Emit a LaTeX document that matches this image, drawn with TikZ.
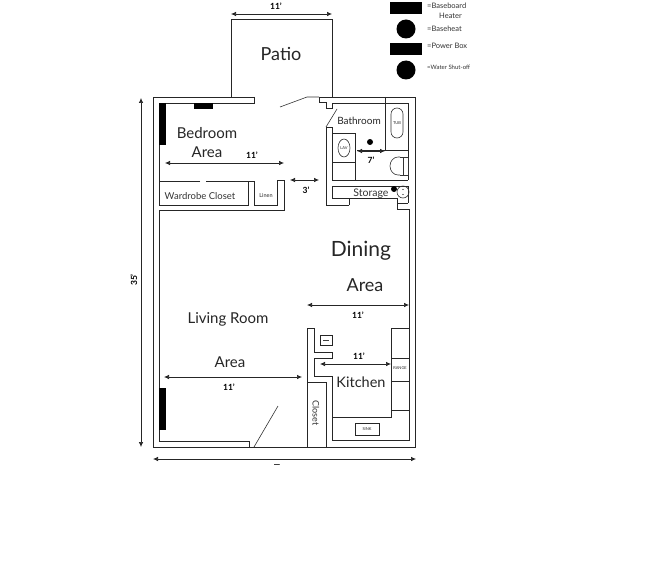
\documentclass[tikz,border=0pt]{standalone}
\usepackage{fontspec}
\setmainfont{Lato}
\usetikzlibrary{arrows.meta}
\tikzset{
  wall/.style={draw=black!85,line width=0.7pt,line join=miter},
  thin wall/.style={draw=black!80,line width=0.6pt},
  dim/.style={draw=black!85,line width=0.7pt,{Latex[length=5pt,width=4.5pt]}-{Latex[length=5pt,width=4.5pt]}},
  dimlabel/.style={font=\fontsize{8.5}{8.5}\selectfont\bfseries,inner sep=0pt},
  room/.style={font=\fontsize{15}{15}\selectfont,inner sep=0pt,text=black!85},
  tiny/.style={font=\fontsize{9.5}{9.5}\selectfont,inner sep=0pt,text=black!80},
  micro/.style={font=\fontsize{4}{4}\selectfont,inner sep=0pt,text=black!85},
  legend/.style={font=\fontsize{7.5}{7.5}\selectfont,inner sep=0pt,text=black!80,anchor=west},
  mass/.style={fill=black,draw=none}
}
\begin{document}
\begin{tikzpicture}[x=1pt,y=-1pt]
\useasboundingbox[fill=white] (0,0) rectangle (650,567);
% patio
\draw[wall] (231,97) -- (231,19) -- (332,19) -- (332,97);
% outer shell
\draw[wall] (254,97) -- (153,97) -- (153,447) -- (415,447) -- (415,97) -- (319,97) -- (319,102) -- (326,102) -- (326,108) -- (332,108) -- (332,103) -- (408,103) -- (408,180);
\draw[wall] (254,97) -- (254,103) -- (159,103) -- (159,181);
% doors
\draw[thin wall] (280,107) -- (307,97) -- (319,97);
\draw[thin wall] (326,127) -- (337,109);
\draw[thin wall] (254,447) -- (278,406);
% bedroom closets
\draw[wall] (200,181) -- (159,181) -- (159,205) -- (248,205) -- (248,181) -- (206,181);
\draw[wall] (248,181) -- (254,181) -- (254,205) -- (277,205) -- (277,180) -- (284,180) -- (284,210) -- (159,210) -- (159,441) -- (249,441) -- (249,447);
% bathroom
\draw[wall] (349,205) -- (326,205) -- (326,127) -- (332,127) -- (332,180) -- (408,180);
\draw[wall] (332,133) -- (355,133) -- (355,180);
\draw[wall] (332,162) -- (355,162);
\draw[wall] (385,97) -- (385,150) -- (357,150);
\draw[wall] (385,150) -- (408,150);
\draw[thin wall,rounded corners=6pt] (391,108) rectangle (403,138);
\draw[thin wall] (344,148) ellipse [x radius=6,y radius=9];
\draw[thin wall] (400,157) -- (398,157) arc[start angle=270,end angle=90,x radius=8,y radius=9] -- (400,175);
\draw[thin wall] (403,157) rectangle (408,175);
\draw[thin wall] (400,157) -- (403,157) (400,175) -- (403,175);
% storage
\draw[wall] (349,205) -- (349,198) -- (332,198) -- (332,186) -- (408,186) -- (408,203);
\draw[wall] (332,198) -- (397,198) -- (397,203) -- (408,203);
\draw[wall] (397,203) -- (397,209) -- (409,209) -- (409,440) -- (362,440);
\draw[thin wall] (403,192) circle (6);
\fill (403,189.5) circle (0.7) (403,194.5) circle (0.7);
\fill[mass] (394,189) circle (3);
\fill[mass] (370,142) circle (3);
% kitchen
\draw[wall] (307,447) -- (307,328) -- (314,328) -- (314,352) -- (332,352) -- (332,358) -- (314,358) -- (314,376) -- (332,376) -- (332,440) -- (362,440);
\draw[wall] (307,382) -- (326,382) -- (326,447);
\draw[wall] (391,328) -- (409,328);
\draw[wall] (391,328) -- (391,417) -- (332,417);
\draw[wall] (391,358) -- (409,358) (391,381) -- (409,381) (391,410) -- (409,410);
\draw[wall] (355,423) rectangle (379,435);
\draw[wall] (320,335) rectangle (332,345);
\fill[black!75] (323,339.5) rectangle (329,341);
% heaters
\fill[mass] (159,103) rectangle (166,145);
\fill[mass] (194,103) rectangle (213,109);
\fill[mass] (159,388) rectangle (166,430);
% legend
\fill[mass] (390,2) rectangle (422,14);
\fill[mass] (406,29) circle (9.5);
\fill[mass] (390,43) rectangle (422,55);
\fill[mass] (406,70) circle (9.5);
\node[legend] (l1) at (427,6) {=Baseboard};
\node[legend] (l1b) at (439,16) {Heater};
\node[legend] (l2) at (427,29) {=Baseheat};
\node[legend] (l3) at (427,46) {=Power Box};
\node[legend,font=\fontsize{6}{6}\selectfont] (l4) at (427,67) {=Water Shut-off};
% dimension arrows
\coordinate (a1) at (231,14); \coordinate (a2) at (332,14);
\coordinate (b1) at (141,98); \coordinate (b2) at (141,447);
\coordinate (c1) at (153,459); \coordinate (c2) at (416,459);
\coordinate (d1) at (165,163); \coordinate (d2) at (284,163);
\coordinate (e1) at (290,180); \coordinate (e2) at (319,180);
\coordinate (f1) at (357,151); \coordinate (f2) at (385,151);
\coordinate (g1) at (307,305); \coordinate (g2) at (409,305);
\coordinate (h1) at (320,364); \coordinate (h2) at (391,364);
\coordinate (i1) at (164,377); \coordinate (i2) at (302,377);
\draw[dim] (a1) -- (a2);
\draw[dim] (b1) -- (b2);
\draw[dim] (c1) -- (c2);
\draw[dim] (d1) -- (d2);
\draw[dim] (e1) -- (e2);
\draw[dim] (f1) -- (f2);
\draw[dim] (g1) -- (g2);
\draw[dim] (h1) -- (h2);
\draw[dim] (i1) -- (i2);
\node[dimlabel] (t1) at (276,6) {11'};
\node[dimlabel,rotate=90] (t2) at (134,280) {35'};
\node[dimlabel] (t3) at (277,466) {---};
\node[dimlabel] (t4) at (252,155) {11'};
\node[dimlabel] (t5) at (306,190) {3'};
\node[dimlabel] (t6) at (371,160) {7'};
\node[dimlabel] (t7) at (358,315) {11'};
\node[dimlabel] (t8) at (359,356) {11'};
\node[dimlabel] (t9) at (229,387) {11'};
% room labels
\node[room,font=\fontsize{18}{18}\selectfont] (patio) at (281,54) {Patio};
\node[room] (bed1) at (207,133) {Bedroom};
\node[room] (bed2) at (207,152) {Area};
\node[room,font=\fontsize{10}{10}\selectfont] (bath) at (359,121) {Bathroom};
\node[room,font=\fontsize{21}{21}\selectfont] (din1) at (361,251) {Dining};
\node[room,font=\fontsize{18}{18}\selectfont] (din2) at (365,285) {Area};
\node[room] (liv1) at (228,319) {Living Room};
\node[room] (liv2) at (230,362) {Area};
\node[room,font=\fontsize{14.5}{14.5}\selectfont] (kit) at (361,382) {Kitchen};
\node[tiny,rotate=-90,font=\fontsize{9}{9}\selectfont] (clo) at (316,413) {Closet};
\node[tiny] (ward) at (200,196) {Wardrobe Closet};
\node[micro,font=\fontsize{5.5}{5.5}\selectfont] (lin) at (266,196) {Linen};
\node[tiny,font=\fontsize{10.5}{10.5}\selectfont] (sto) at (371,194) {Storage};
\node[micro] (tub) at (397,123) {TUB};
\node[micro] (lav) at (344,148) {LAV};
\node[micro] (ran) at (400,368) {RANGE};
\node[micro] (sink) at (367,429) {SINK};
\end{tikzpicture}
\end{document}
